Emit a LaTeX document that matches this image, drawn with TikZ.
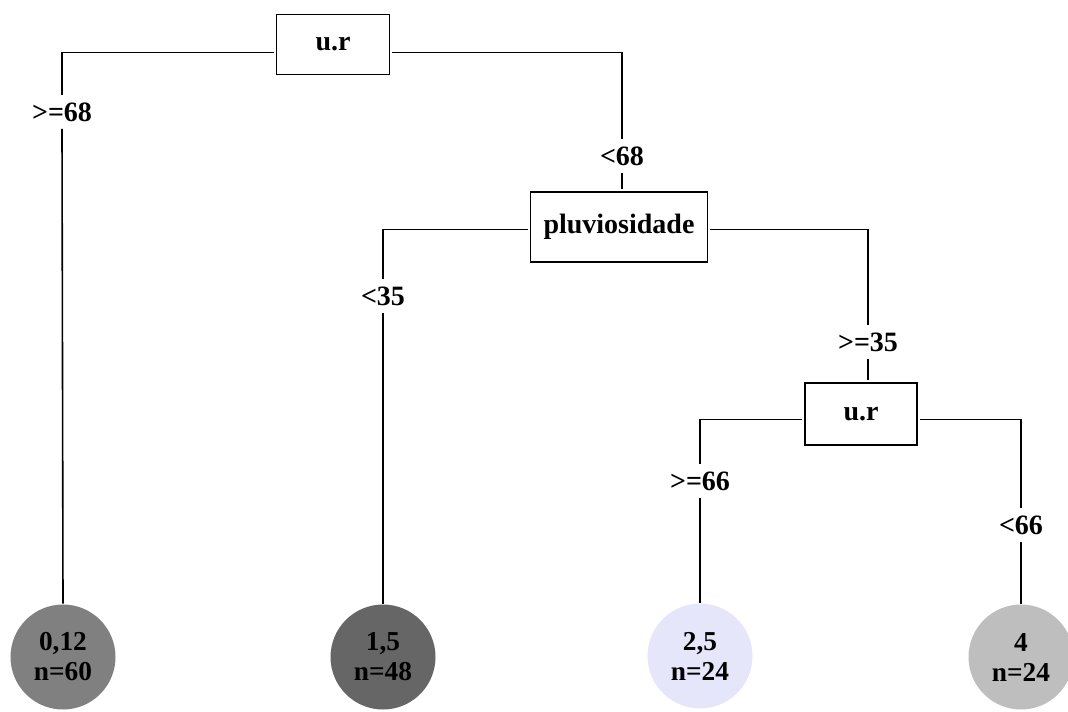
\documentclass[tikz,border=0pt]{standalone}
\usepackage{fontspec}
\setmainfont{Liberation Serif}
\usetikzlibrary{positioning, shapes}

\definecolor{leafgray}{RGB}{128,128,128}
\definecolor{leafdark}{RGB}{102,102,102}
\definecolor{leaflav}{RGB}{230,230,250}
\definecolor{leaflight}{RGB}{190,190,190}

\tikzset{
    split/.style={draw, rectangle, line width=1.2pt, inner sep=0pt, outer sep=2pt,
        font=\fontsize{21}{24}\selectfont\bfseries},
    leaf/.style={circle, minimum size=78.75pt, inner sep=0pt, align=center,
        font=\fontsize{20.5}{22.5}\selectfont\bfseries},
    cond/.style={inner sep=0pt, minimum height=24pt, font=\fontsize{21}{23}\selectfont\bfseries}
}

\begin{document}
\begin{tikzpicture}[x=0.75pt, y=-0.75pt, line width=1.2pt]
        \useasboundingbox (0,0) rectangle (1068,711);
        \node[split, minimum width=84.75pt, minimum height=45pt] (ur1) at (333,44.5) {u.r};
        \node[split, minimum width=132.75pt, minimum height=52.5pt] (pluv) at (619,227) {pluviosidade};
        \node[split, minimum width=84pt, minimum height=46.5pt] (ur2) at (861,414) {u.r};

        \node[leaf, fill=leafgray] (leaf1) at (63,657) {0,12\\n=60};
        \node[leaf, fill=leafdark] (leaf2) at (383,657) {1,5\\n=48};
        \node[leaf, fill=leaflav] (leaf3) at (700,656) {2,5\\n=24};
        \node[leaf, fill=leaflight] (leaf4) at (1021,657) {4\\n=24};

        \node[cond] (ge68) at (62,112) {>=68};
        \node[cond] (lt68) at (622,156) {<68};
        \node[cond] (lt35) at (383,296) {<35};
        \node[cond] (ge35) at (868,342) {>=35};
        \node[cond] (ge66) at (700,481) {>=66};
        \node[cond] (lt66) at (1021,525) {<66};

        \draw ([yshift=-6pt]ur1.west) -| (ge68.north);
        \draw (ge68.south) -- (leaf1.north);
        \draw ([yshift=-6pt]ur1.east) -| (lt68.north);
        \draw (lt68.south) -- (lt68.south |- pluv.north);
        \draw ([yshift=-2pt]pluv.west) -| (lt35.north);
        \draw (lt35.south) -- (leaf2.north);
        \draw ([yshift=-2pt]pluv.east) -| (ge35.north);
        \draw (ge35.south) -- (ge35.south |- ur2.north);
        \draw ([yshift=-4pt]ur2.west) -| (ge66.north);
        \draw (ge66.south) -- (leaf3.north);
        \draw ([yshift=-4pt]ur2.east) -| (lt66.north);
        \draw (lt66.south) -- (leaf4.north);
    \end{tikzpicture}
\end{document}
